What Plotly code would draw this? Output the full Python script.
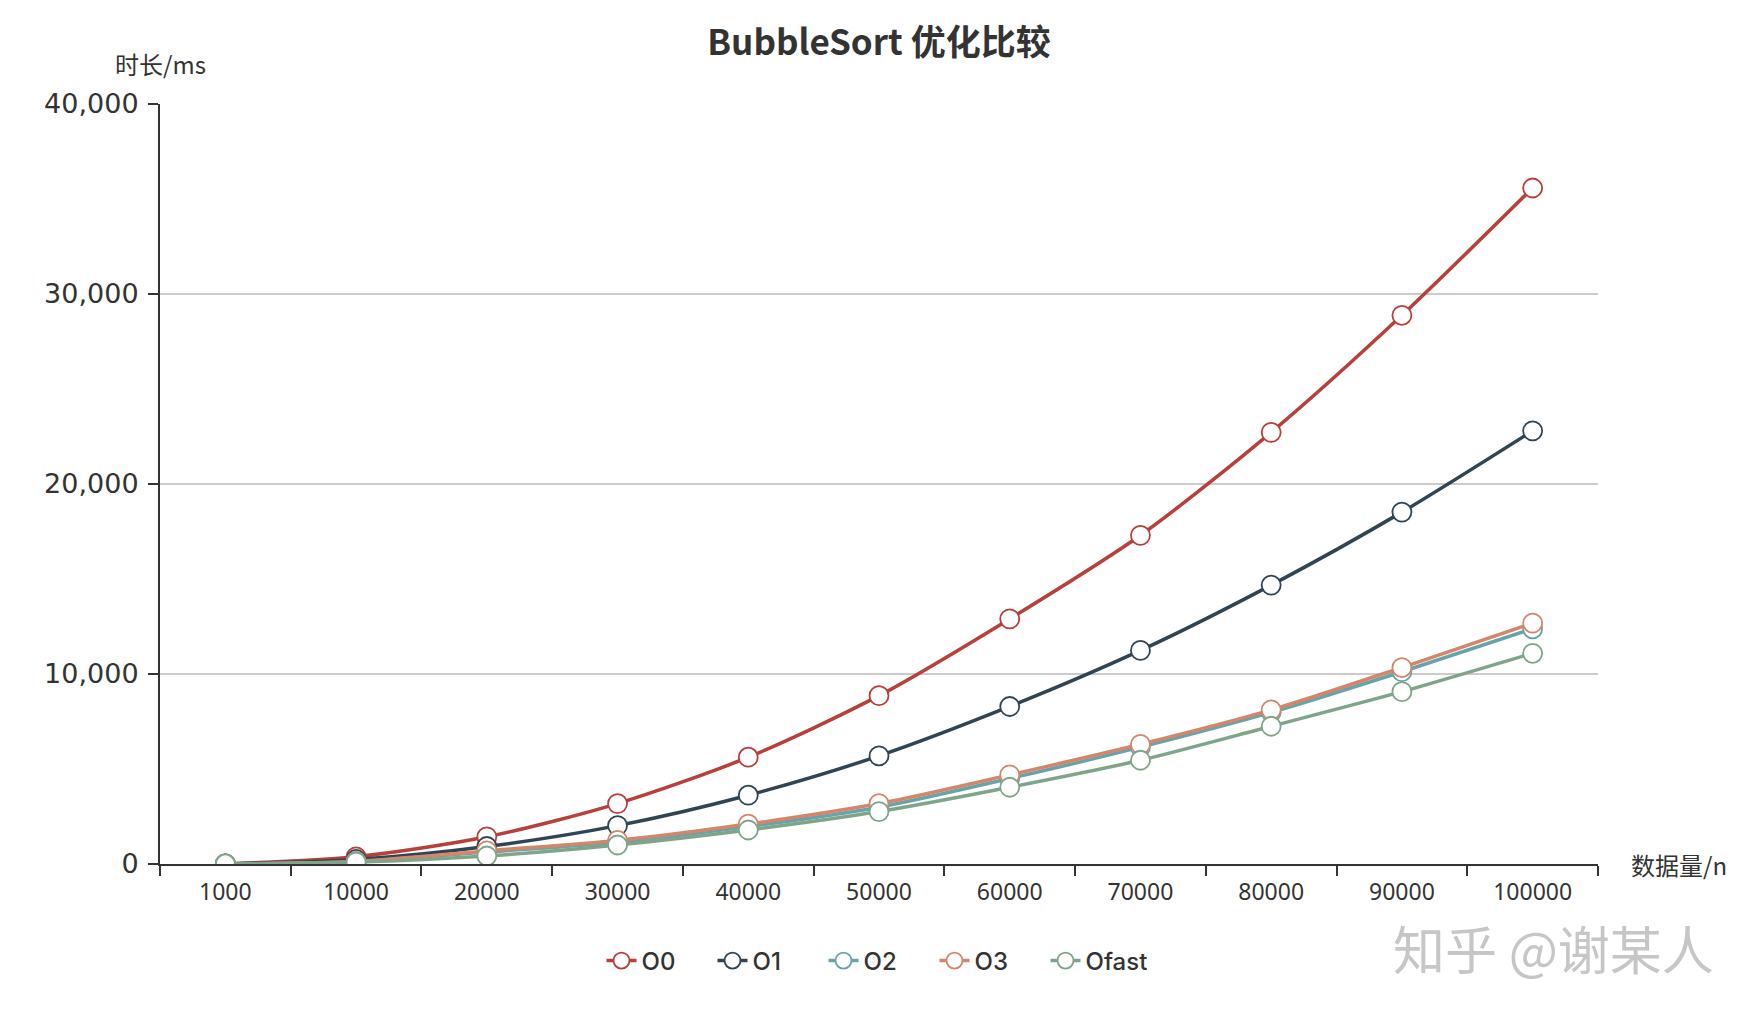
import plotly.graph_objects as go

categories = ["1000", "10000", "20000", "30000", "40000", "50000",
              "60000", "70000", "80000", "90000", "100000"]
o0 = [4, 380, 1430, 3180, 5620, 8860, 12900, 17300, 22720, 28880, 35580]
o1 = [3, 240, 920, 2020, 3620, 5690, 8290, 11240, 14680, 18520, 22800]
o2 = [2, 130, 630, 1150, 1970, 2990, 4500, 6150, 7980, 10120, 12380]
o3 = [2, 130, 690, 1240, 2100, 3180, 4690, 6300, 8110, 10340, 12680]
ofast = [2, 100, 420, 1000, 1790, 2760, 4040, 5460, 7250, 9070, 11090]

series_names = ["O0", "O1", "O2", "O3", "Ofast"]
series_values = [o0, o1, o2, o3, ofast]
colors = ["#b83f3a", "#2f4554", "#67a3ab", "#d4866b", "#7ea58a"]

W, H = 1762, 1016
ml, mr, mt, mb = 160, 164, 104, 152
plot_h = H - mt - mb

fig = go.Figure()
for name, vals, c in zip(series_names, series_values, colors):
    fig.add_trace(go.Scatter(
        x=categories, y=vals, name=name, mode="lines+markers",
        line=dict(color=c, width=3.5, shape="spline", smoothing=0.8),
        marker=dict(symbol="circle", size=19, color="white",
                    line=dict(color=c, width=1.8)),
    ))

def py(ypx):
    return (H - mb - ypx) / plot_h

fig.update_layout(
    width=W, height=H,
    margin=dict(l=ml, r=mr, t=mt, b=mb),
    paper_bgcolor="white", plot_bgcolor="white",
    title=dict(text="<b>BubbleSort 优化比较</b>", x=0.5, xref="paper",
               y=1 - 43 / H, yref="container", yanchor="middle", xanchor="center",
               font=dict(family="Noto Sans CJK SC", size=35, color="#333")),
    showlegend=True,
    legend=dict(orientation="h", x=0.5, xanchor="center", y=py(961), yanchor="middle",
                font=dict(family="Inter", size=24, color="#333", weight=500),
                itemwidth=30, entrywidth=66, bgcolor="rgba(0,0,0,0)"),
    xaxis=dict(type="category", range=[-0.5, 10.5], tickson="boundaries",
               ticks="outside", ticklen=10, tickwidth=2, tickcolor="#333",
               showline=True, linecolor="#333", linewidth=2, showgrid=False,
               zeroline=False, ticklabelstandoff=6,
               tickfont=dict(family="Noto Sans", size=23, color="#333")),
    yaxis=dict(range=[0, 40000], dtick=10000, tickformat=",",
               ticks="outside", ticklen=10, tickwidth=2, tickcolor="#333",
               showline=True, linecolor="#333", linewidth=2,
               showgrid=True, gridcolor="#cccccc", gridwidth=2, zeroline=False,
               ticklabelstandoff=4,
               tickfont=dict(family="DejaVu Sans", size=27, color="#333")),
    annotations=[
        dict(text="时长/ms", x=0, xref="paper", y=py(63), yref="paper",
             xanchor="center", yanchor="middle", showarrow=False,
             font=dict(family="Noto Sans CJK SC", size=24, color="#333")),
        dict(text="数据量/n", x=(1629 - ml) / (W - ml - mr), xref="paper", y=0, yref="paper",
             xanchor="left", yanchor="middle", showarrow=False,
             font=dict(family="Noto Sans CJK SC", size=24, color="#333")),
        dict(text="知乎 @谢某人", x=(1553 - ml) / (W - ml - mr), xref="paper",
             y=py(947), yref="paper", xanchor="center", yanchor="middle", showarrow=False,
             font=dict(family="Noto Sans CJK SC", size=52, color="#c6c6c6")),
    ],
)

fig.write_html("out.html")
